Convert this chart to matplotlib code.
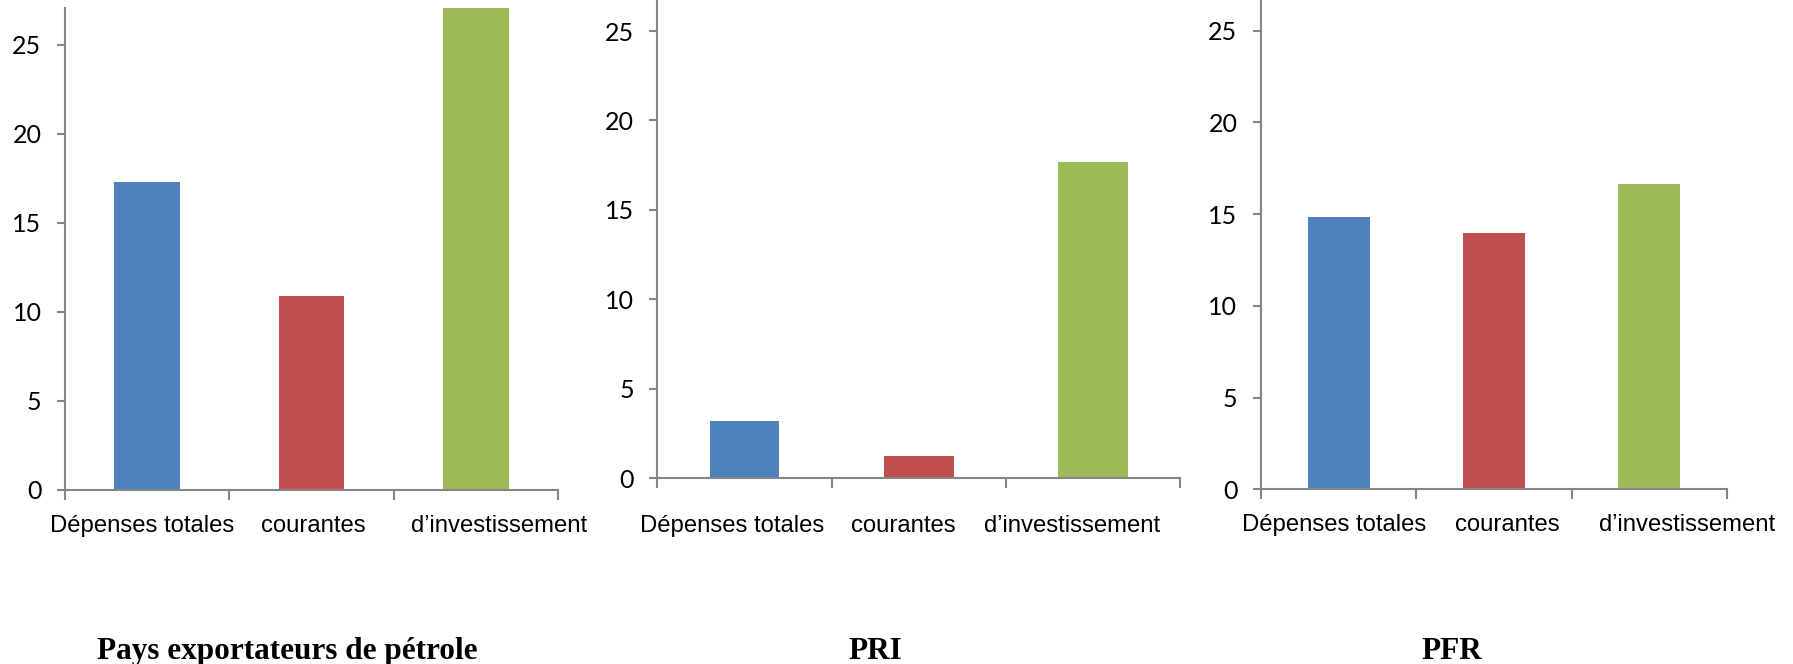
import matplotlib.pyplot as plt
import matplotlib.transforms as mtransforms
from matplotlib.ticker import FixedLocator

# categories and values
categories = ["Dépenses totales", "courantes", "d’investissement"]
groups = ["Pays exportateurs de pétrole", "PRI", "PFR"]
oil_exporters = [17.3, 10.9, 27.5]
pri = [3.2, 1.25, 17.65]
pfr = [14.85, 13.95, 16.65]
yticks = [0, 5, 10, 15, 20, 25]

colors = ["#4F81BD", "#C0504D", "#9BBB59"]
axis_grey = "#868686"

fig = plt.figure(figsize=(17.93, 6.64), dpi=100)

# [left, bottom, width, height], y max, label pad, title x centre,
# horizontal nudge of each category label (pixels) like the Excel layout
panels = [
    (oil_exporters, [0.0363, 0.2628, 0.2750, 0.7252], 27.06, 11, 0.1604, [-5, 2, 23]),
    (pri, [0.3667, 0.2801, 0.2914, 0.8078], 30, 19.5, 0.4880, [-12, -15, -21]),
    (pfr, [0.7033, 0.2630, 0.2599, 0.8292], 30, 11, 0.8098, [-5, 13, 38]),
]

for (values, rect, ymax, pad, tx, nudges), name in zip(panels, groups):
    ax = fig.add_axes(rect)
    x = range(len(categories))
    ax.bar(x, values, width=0.4, color=colors)

    for side in ["top", "right"]:
        ax.spines[side].set_visible(False)
    for side in ["left", "bottom"]:
        ax.spines[side].set_color(axis_grey)
        ax.spines[side].set_linewidth(1.5)

    ax.set_yticks(yticks)
    ax.set_yticklabels([str(v) for v in yticks], family="Lato", fontsize=18)
    ax.tick_params(axis="y", direction="out", length=6, width=1.5,
                   color=axis_grey, pad=11)

    # category labels, tick marks on the boundaries
    ax.set_xticks(list(x))
    ax.set_xticklabels(categories, family="Liberation Sans", fontsize=17.2)
    ax.tick_params(axis="x", which="major", length=0, pad=pad + 7)
    ax.xaxis.set_minor_locator(FixedLocator([-0.5, 0.5, 1.5, 2.5]))
    ax.tick_params(axis="x", which="minor", direction="out", length=7,
                   width=1.5, color=axis_grey)
    for lab, dx in zip(ax.get_xticklabels(), nudges):
        shift = mtransforms.ScaledTranslation(dx / 100, 0, fig.dpi_scale_trans)
        lab.set_transform(lab.get_transform() + shift)

    ax.set_xlim(-0.5, len(categories) - 0.5)
    ax.set_ylim(0, ymax)

    fig.text(tx, 0.0081, name, ha="center", va="baseline",
             family="Liberation Serif", fontweight="bold", fontsize=22.5)

fig.savefig("out.png", dpi=100)
